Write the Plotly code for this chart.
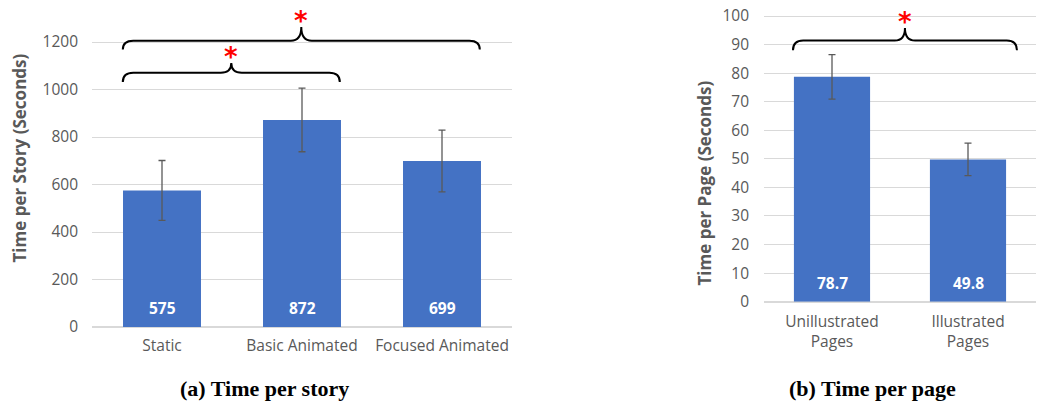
import plotly.graph_objects as go

# ---- data ----
story_categories = ["Static", "Basic Animated", "Focused Animated"]
story_values = [575, 872, 699]
story_errors = [126, 134, 130]

page_categories = ["Unillustrated<br>Pages", "Illustrated<br>Pages"]
page_values = [78.7, 49.8]
page_errors = [7.8, 5.7]

story_ticks = [0, 200, 400, 600, 800, 1000, 1200]
page_ticks = [0, 10, 20, 30, 40, 50, 60, 70, 80, 90, 100]

BAR = "#4472C4"
GRAY = "#595959"
GRID = "#d9d9d9"
FONT = "Open Sans"

W, H, OFF = 1048, 402, 8  # page body margin offset


def px(x):
    return (x - OFF) / W


def py(y):
    return (H - (y - OFF)) / H


fig = go.Figure()

fig.add_trace(go.Bar(
    x=list(range(len(story_categories))), y=story_values, width=0.557,
    marker=dict(color=BAR, line=dict(width=0)),
    error_y=dict(type="data", array=story_errors, color=GRAY, thickness=1.3, width=3.5),
    xaxis="x", yaxis="y", showlegend=False, hoverinfo="skip"))

fig.add_trace(go.Bar(
    x=list(range(len(page_categories))), y=page_values, width=0.56,
    marker=dict(color=BAR, line=dict(width=0)),
    error_y=dict(type="data", array=page_errors, color=GRAY, thickness=1.3, width=3.5),
    xaxis="x2", yaxis="y2", showlegend=False, hoverinfo="skip"))

axis_common = dict(showline=False, ticks="", tickfont=dict(family=FONT, size=15.5, color=GRAY),
                   fixedrange=True, automargin=False, ticklabeloverflow="allow")

fig.update_layout(
    width=W, height=H,
    margin=dict(l=0, r=0, t=0, b=0, autoexpand=False),
    paper_bgcolor="white", plot_bgcolor="white",
    xaxis=dict(domain=[px(92), px(512)], range=[-0.5, 2.5],
               tickvals=list(range(len(story_categories))), ticktext=story_categories,
               showgrid=False, zeroline=False, ticklabelstandoff=7, anchor="y", **axis_common),
    yaxis=dict(domain=[py(327), py(18.25)], range=[0, 1300],
               tickvals=story_ticks, showgrid=True, gridcolor=GRID, gridwidth=1,
               zeroline=True, zerolinecolor=GRID, zerolinewidth=1.5,
               ticklabelstandoff=13, anchor="x", **axis_common),
    xaxis2=dict(domain=[px(764), px(1036)], range=[-0.5, 1.5],
                tickvals=list(range(len(page_categories))), ticktext=page_categories,
                showgrid=False, zeroline=False, ticklabelstandoff=9, anchor="y2", **axis_common),
    yaxis2=dict(domain=[py(301.7), py(13.14)], range=[0, 101],
                tickvals=page_ticks, showgrid=True, gridcolor=GRID, gridwidth=1,
                zeroline=True, zerolinecolor=GRID, zerolinewidth=1.5,
                ticklabelstandoff=14, anchor="x2", **axis_common),
)


def brace(x0, x1, yb, ye, yp, r, xref, yref):
    xm = (x0 + x1) / 2
    path = (f"M {x0},{ye} Q {x0},{yb} {x0 + r},{yb} L {xm - r},{yb} "
            f"Q {xm},{yb} {xm},{yp} Q {xm},{yb} {xm + r},{yb} "
            f"L {x1 - r},{yb} Q {x1},{yb} {x1},{ye}")
    fig.add_shape(type="path", path=path, xref=xref, yref=yref,
                  line=dict(color="black", width=2))
    return xm


star_font = dict(family="DejaVu Sans", size=26, color="red")

# left chart brackets
m1 = brace(-0.28, 2.27, 1205, 1168, 1263, 0.075, "x", "y")
fig.add_annotation(x=m1, y=1263, xref="x", yref="y", text="<b>*</b>", showarrow=False,
                   font=star_font, xanchor="center", yanchor="bottom", yshift=-11)
m2 = brace(-0.28, 1.27, 1071, 1032, 1112, 0.075, "x", "y")
fig.add_annotation(x=m2, y=1112, xref="x", yref="y", text="<b>*</b>", showarrow=False,
                   font=star_font, xanchor="center", yanchor="bottom", yshift=-11)

# right chart bracket
m3 = brace(-0.287, 1.36, 91.4, 88.0, 95.8, 0.075, "x2", "y2")
fig.add_annotation(x=m3, y=95.8, xref="x2", yref="y2", text="<b>*</b>", showarrow=False,
                   font=star_font, xanchor="center", yanchor="bottom", yshift=-11)

# value labels at bar bases
for i, v in enumerate(story_values):
    fig.add_annotation(x=i, y=0, xref="x", yref="y", text=f"<b>{v}</b>", showarrow=False,
                       xanchor="center", yanchor="bottom", yshift=6,
                       font=dict(family=FONT, size=15.5, color="white"))
for i, v in enumerate(page_values):
    fig.add_annotation(x=i, y=0, xref="x2", yref="y2", text=f"<b>{v}</b>", showarrow=False,
                       xanchor="center", yanchor="bottom", yshift=6,
                       font=dict(family=FONT, size=15.5, color="white"))

# axis titles
fig.add_annotation(x=px(19), y=py(158.5), xref="paper", yref="paper",
                   xanchor="center", yanchor="middle",
                   text="<b>Time per Story (Seconds)</b>", textangle=-90, showarrow=False,
                   font=dict(family=FONT, size=17, color=GRAY))
fig.add_annotation(x=px(704), y=py(183.5), xref="paper", yref="paper",
                   xanchor="center", yanchor="middle",
                   text="<b>Time per Page (Seconds)</b>", textangle=-90, showarrow=False,
                   font=dict(family=FONT, size=17, color=GRAY))

# captions
cap_font = dict(family="Liberation Serif", size=22, color="black")
fig.add_annotation(x=px(264), y=py(388), xref="paper", yref="paper",
                   xanchor="center", yanchor="middle",
                   text="<b>(a) Time per story</b>", showarrow=False, font=cap_font)
fig.add_annotation(x=px(872), y=py(388), xref="paper", yref="paper",
                   xanchor="center", yanchor="middle",
                   text="<b>(b) Time per page</b>", showarrow=False, font=cap_font)

fig.write_html("out.html")
